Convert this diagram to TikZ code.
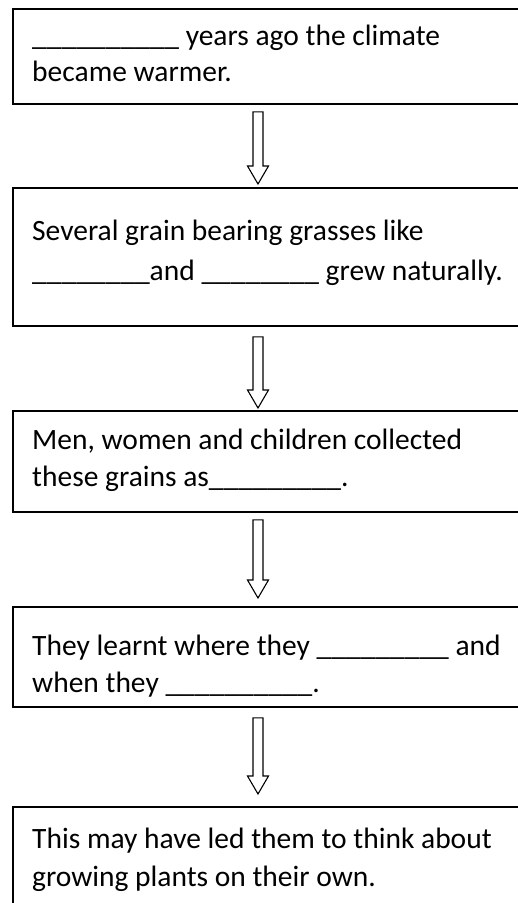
\documentclass[tikz,border=0pt]{standalone}
\usepackage{fontspec}
\setmainfont{Carlito}
\usetikzlibrary{calc}
\newcommand\hollowarrow[2]{%
  \draw[hollowarr] ($(#1)+(-5,0)$) -- ($(#2)+(-5,-18)$) -- ($(#2)+(-10.5,-18)$)
    -- (#2) -- ($(#2)+(10.5,-18)$) -- ($(#2)+(5,-18)$) -- ($(#1)+(5,0)$) -- cycle;}
\begin{document}
\begin{tikzpicture}[x=1pt,y=-1pt,
  box/.style={draw, line width=1.8pt, anchor=north west, minimum width=530pt, inner sep=0pt},
  txt/.style={anchor=base west, inner sep=0pt, font=\fontsize{29.5}{36}\selectfont},
  hollowarr/.style={draw, line width=1.1pt, fill=white, line join=miter}]
\useasboundingbox (0,0) rectangle (518,903);
\clip (0,0) rectangle (518,903);
% boxes
\node[box, minimum height=95pt]  (b1) at (12,8) {};
\node[box, minimum height=138pt] (b2) at (12,187) {};
\node[box, minimum height=101pt] (b3) at (12,410) {};
\node[box, minimum height=100pt] (b4) at (12,606) {};
\node[box, minimum height=130pt] (b5) at (12,806) {};
% texts
\node[txt] (t1a) at (32,45) {\_\_\_\_\_\_\_\_\_\_ years ago the climate};
\node[txt] (t1b) at (32,81) {became warmer.};
\node[txt] (t2a) at (32,240) {Several grain bearing grasses like};
\node[txt] (t2b) at (32,280) {\_\_\_\_\_\_\_\_and \_\_\_\_\_\_\_\_ grew naturally.};
\node[txt] (t3a) at (32,449) {Men, women and children collected};
\node[txt] (t3b) at (32,486) {these grains as\_\_\_\_\_\_\_\_\_.};
\node[txt] (t4a) at (32,655) {They learnt where they \_\_\_\_\_\_\_\_\_ and};
\node[txt] (t4b) at (32,692) {when they \_\_\_\_\_\_\_\_\_\_.};
\node[txt] (t5a) at (32,848) {This may have led them to think about};
\node[txt] (t5b) at (32,886) {growing plants on their own.};
% arrows
\coordinate (a1s) at ($(b1.south west)+(246,7)$);
\coordinate (a1t) at ($(b2.north west)+(246,-3)$);
\coordinate (a2s) at ($(b2.south west)+(246,10)$);
\coordinate (a2t) at ($(b3.north west)+(246,-2)$);
\coordinate (a3s) at ($(b3.south west)+(246,7)$);
\coordinate (a3t) at ($(b4.north west)+(246,-8)$);
\coordinate (a4s) at ($(b4.south west)+(246,10)$);
\coordinate (a4t) at ($(b5.north west)+(246,-12)$);
\hollowarrow{a1s}{a1t}
\hollowarrow{a2s}{a2t}
\hollowarrow{a3s}{a3t}
\hollowarrow{a4s}{a4t}
\end{tikzpicture}
\end{document}
